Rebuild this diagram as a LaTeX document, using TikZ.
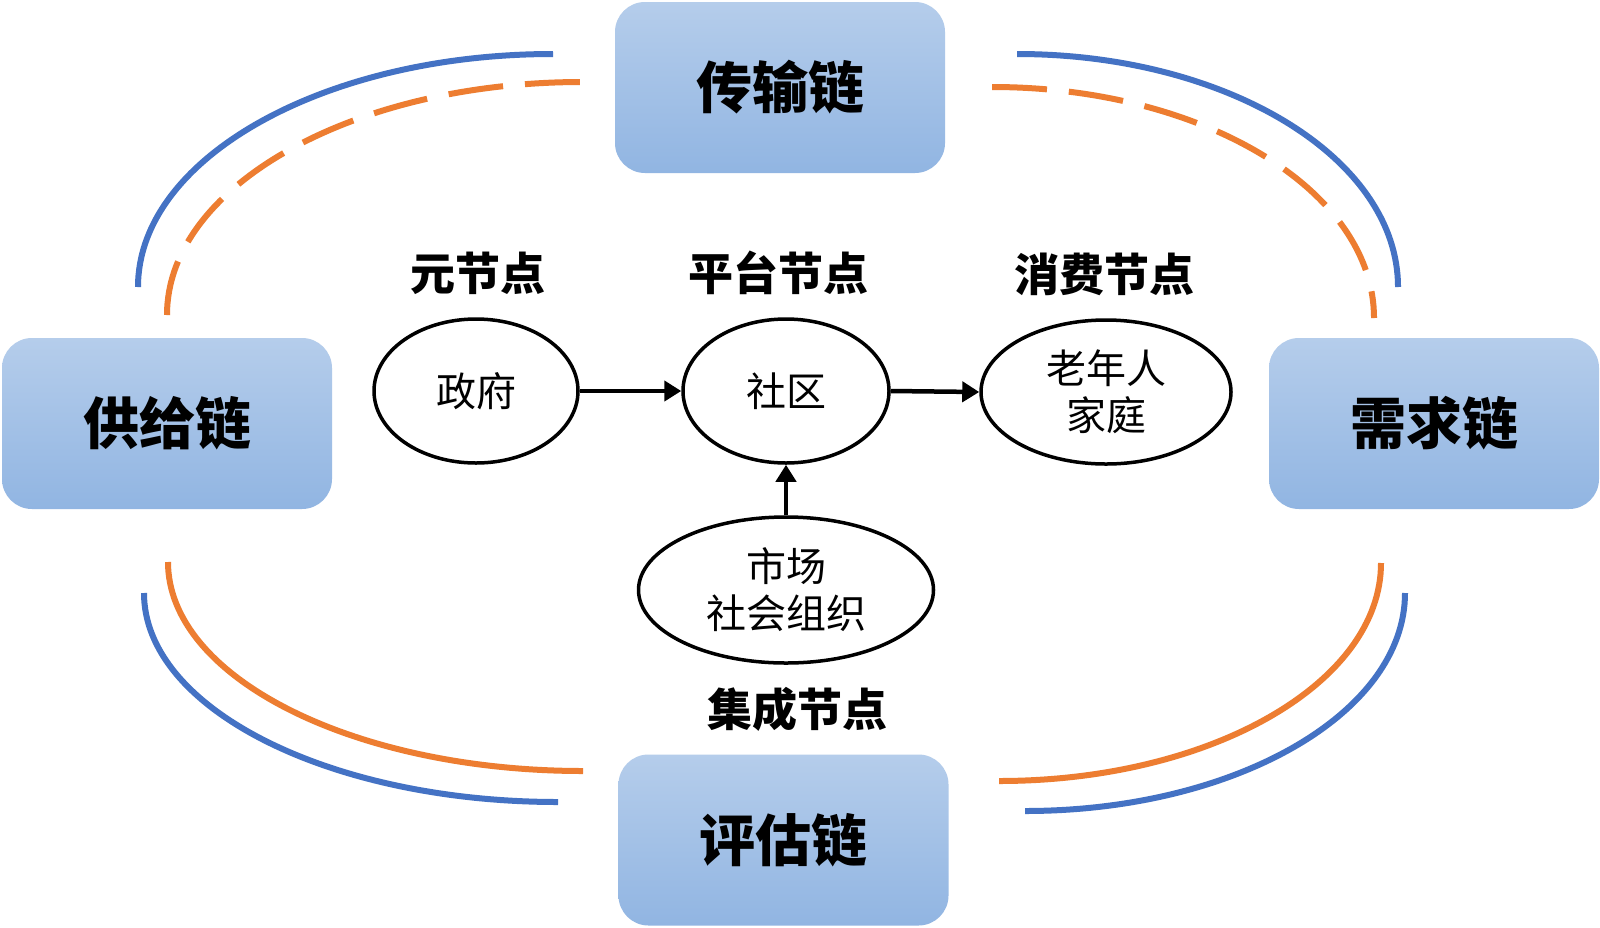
\documentclass[tikz,border=0pt]{standalone}
\usepackage{fontspec}
\setmainfont{Noto Sans CJK SC}
\usetikzlibrary{arrows.meta,shapes.geometric}
\definecolor{arcblue}{RGB}{68,114,196}
\definecolor{arcorange}{RGB}{237,125,49}
\definecolor{boxtop}{RGB}{181,205,235}
\definecolor{boxbot}{RGB}{145,181,226}
\tikzset{
  chainbox/.style={rectangle, rounded corners=30pt, top color=boxtop, bottom color=boxbot,
    draw=none, minimum width=330pt, minimum height=171pt, inner sep=0pt,
    font=\bfseries\fontsize{56}{60}\selectfont},
  actor/.style={ellipse, draw=black, line width=3.5pt, inner sep=0pt, align=center,
    font=\fontsize{40}{47}\selectfont},
  nodelabel/.style={inner sep=0pt, font=\bfseries\fontsize{45}{50}\selectfont},
  flow/.style={line width=4.5pt, -{Triangle[length=17pt,width=20pt]}},
  bluearc/.style={draw=arcblue, line width=6pt},
  orangearc/.style={draw=arcorange, line width=6pt},
  orangedash/.style={draw=arcorange, line width=6pt, dash pattern=on 55pt off 22pt}
}
\begin{document}
\begin{tikzpicture}[x=1pt,y=-1pt]
\useasboundingbox[fill=white] (0,0) rectangle (1600,927);
% chain boxes
\node[chainbox] (trans) at (780,87.5) {传输链};
\node[chainbox] (supply) at (167,423.5) {供给链};
\node[chainbox] (demand) at (1434,423.5) {需求链};
\node[chainbox] (eval) at (783.5,840) {评估链};
% arcs
\draw[bluearc] (138,287) .. controls (138,158.3) and (323.8,54) .. (553,54);
\draw[orangedash] (167,315) .. controls (167,186.3) and (352.8,82) .. (582,82);
\draw[bluearc] (1017,54) .. controls (1227.4,54) and (1398,158.3) .. (1398,287);
\draw[orangedash] (992,87) .. controls (1203,87) and (1374,190.4) .. (1374,318);
\draw[orangearc] (168,562) .. controls (168,677.4) and (353.8,771) .. (583,771);
\draw[bluearc] (144,593) .. controls (144,708.4) and (329.3,802) .. (558,802);
\draw[orangearc] (1381,563) .. controls (1381,683.4) and (1210,781) .. (999,781);
\draw[bluearc] (1405,593) .. controls (1405,713.4) and (1234.9,811) .. (1025,811);
% actors
\node[actor, minimum width=204pt, minimum height=144pt] (gov) at (476,391) {政府};
\node[actor, minimum width=206pt, minimum height=144pt] (comm) at (786,391) {社区};
\node[actor, minimum width=250pt, minimum height=144pt] (elder) at (1106,392) {老年人\\家庭};
\node[actor, minimum width=295pt, minimum height=146pt] (market) at (786,590) {市场\\社会组织};
% labels
\node[nodelabel] (lmeta) at (478,273) {元节点};
\node[nodelabel] (lplat) at (778,273) {平台节点};
\node[nodelabel] (lcons) at (1104,274) {消费节点};
\node[nodelabel] (lint) at (797,709) {集成节点};
% flows
\draw[flow] (gov.east) -- (comm.west);
\draw[flow] (comm.east) -- (elder.west);
\draw[flow] (market.north) -- (comm.south);
\end{tikzpicture}
\end{document}
